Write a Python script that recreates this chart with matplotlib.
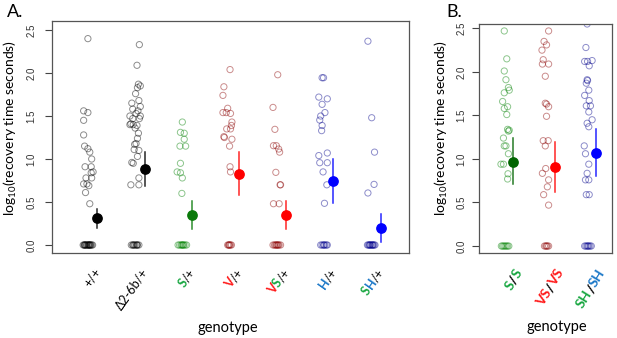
import numpy as np
import matplotlib
matplotlib.use("Agg")
import matplotlib.pyplot as plt
from matplotlib import transforms

plt.rcParams['font.family'] = ['Lato', 'DejaVu Sans']
plt.rcParams['mathtext.default'] = 'regular'

# label pieces: (text, colour key)
labels_a = [
    [("+/+", "k")],
    [("Δ2-6b/+", "k")],
    [("S", "S"), ("/+", "k")],
    [("V", "V"), ("/+", "k")],
    [("V", "V"), ("S", "S"), ("/+", "k")],
    [("H", "H"), ("/+", "k")],
    [("S", "S"), ("H", "H"), ("/+", "k")],
]
labels_b = [
    [("S", "S"), ("/", "k"), ("S", "S")],
    [("VS", "V"), ("/", "k"), ("VS", "V")],
    [("SH", "S"), ("/", "k"), ("SH", "H")],
]

# non-zero log10 recovery times, with the jitter
vals_pp = [2.40, 1.56, 1.54, 1.45, 1.28, 1.15, 1.12, 1.08, 1.00, 0.91, 0.91, 0.85, 0.84,
           0.78, 0.78, 0.71, 0.71, 0.69, 0.61, 0.48]
jit_pp = [0.0, -0.09, 0.0, -0.09, -0.09, -0.07, 0.0, 0.04, 0.08, -0.06, 0.07, 0.11, 0.07,
          -0.04, 0.08, -0.09, -0.02, 0.02, -0.05, 0.04]
vals_d = [2.33, 2.09, 1.87, 1.85, 1.83, 1.76, 1.68, 1.65, 1.61, 1.58, 1.56, 1.53, 1.50, 1.50,
          1.47, 1.47, 1.41, 1.40, 1.40, 1.39, 1.36, 1.30, 1.24, 1.18, 1.17, 1.11, 1.10, 1.03,
          0.96, 0.95, 0.78, 0.70, 0.70]
jit_d = [0.09, 0.04, 0.07, 0.11, 0.05, 0.01, 0.08, -0.07, 0.11, -0.05, 0.06, 0.02, -0.11, 0.11,
         -0.05, 0.09, -0.09, -0.11, -0.04, 0.04, 0.0, 0.07, 0.05, 0.02, -0.01, -0.02, 0.08, 0.05,
         -0.07, -0.04, 0.08, -0.09, 0.08]
vals_s = [1.43, 1.31, 1.30, 1.23, 1.15, 1.15, 0.95, 0.85, 0.84, 0.78, 0.60]
jit_s = [0.0, -0.04, 0.04, 0.04, -0.05, 0.07, -0.04, -0.11, -0.04, 0.0, -0.01]
vals_v = [2.04, 1.84, 1.74, 1.59, 1.54, 1.54, 1.53, 1.43, 1.39, 1.35, 1.35, 1.26, 1.25, 1.23,
          1.15, 0.91, 0.85]
jit_v = [0.01, -0.12, -0.14, -0.04, -0.14, -0.07, 0.02, 0.05, 0.04, -0.06, 0.02, -0.12, -0.11,
         0.05, 0.0, 0.01, 0.02]
vals_vs = [1.98, 1.60, 1.345, 1.155, 1.155, 1.116, 1.08, 0.845, 0.70, 0.70, 0.48, 0.48]
jit_vs = [0.02, -0.08, -0.04, -0.07, -0.01, 0.04, 0.06, -0.02, 0.07, 0.08, -0.07, 0.05]
vals_h = [1.945, 1.945, 1.72, 1.70, 1.636, 1.54, 1.50, 1.453, 1.39, 1.33, 1.07, 1.04, 0.957,
          0.957, 0.85, 0.70, 0.485]
jit_h = [-0.04, -0.01, -0.11, 0.07, -0.04, 0.02, -0.07, -0.09, -0.04, -0.05, 0.07, -0.11,
         -0.09, 0.07, -0.02, 0.06, 0.01]
vals_sh = [2.37, 1.48, 1.08, 0.705, 0.605]
jit_sh = [-0.07, 0.01, 0.07, 0.06, -0.07]

vals_ss = [2.47, 2.15, 2.01, 1.91, 1.82, 1.79, 1.76, 1.66, 1.60, 1.58, 1.51, 1.34, 1.33, 1.32,
           1.24, 1.15, 1.15, 1.06, 0.94, 0.94, 0.83, 0.77]
jit_ss = [-0.02, 0.04, -0.02, 0.02, 0.08, 0.10, -0.02, -0.06, 0.06, -0.02, 0.04, 0.06, 0.10,
          0.08, -0.04, -0.02, 0.02, 0.08, -0.10, -0.04, 0.07, 0.06]
vals_vsvs = [2.47, 2.35, 2.31, 2.25, 2.14, 2.09, 2.09, 1.95, 1.64, 1.63, 1.60, 1.49, 1.21, 1.21,
             1.15, 0.89, 0.835, 0.76, 0.68, 0.59, 0.47]
jit_vsvs = [0.05, -0.06, 0.0, -0.11, -0.08, -0.10, 0.05, -0.03, -0.03, 0.0, 0.05, 0.0, -0.08,
            0.04, -0.03, -0.02, -0.10, 0.05, 0.02, -0.07, 0.05]
vals_shsh = [2.55, 2.28, 2.12, 2.12, 2.13, 2.07, 1.91, 1.90, 1.87, 1.79, 1.73, 1.67, 1.61, 1.61,
             1.54, 1.45, 1.41, 1.37, 1.15, 1.06, 0.94, 0.835, 0.76, 0.76, 0.59, 0.59]
jit_shsh = [-0.02, -0.05, -0.08, -0.01, 0.10, 0.03, -0.02, -0.01, -0.04, 0.02, -0.08, 0.03, -0.04,
            0.06, 0.02, 0.10, -0.02, 0.02, -0.09, -0.06, 0.02, -0.02, -0.06, 0.02, -0.04, 0.03]

# jitter of the points sitting at zero
zero_jit_a = [
    [-0.10, -0.08, -0.07, -0.06, -0.05, -0.03, -0.02, 0.0, 0.01, 0.02, 0.03, 0.04, 0.05, 0.06, 0.08, 0.10],
    [-0.08, -0.05, -0.04, -0.02, 0.0, 0.03, 0.04, 0.05, 0.08],
    [-0.09, -0.06, -0.03, -0.01, 0.0, 0.02, 0.03, 0.06, 0.09],
    [-0.04, -0.02, -0.01, 0.0, 0.02, 0.04],
    [-0.08, -0.05, -0.03, -0.01, 0.0, 0.02, 0.03, 0.05, 0.08],
    [-0.07, -0.04, -0.01, 0.0, 0.02, 0.05, 0.07],
    [-0.08, -0.06, -0.04, -0.03, -0.02, 0.0, 0.02, 0.03, 0.04, 0.06, 0.08],
]
zero_jit_b = [
    [-0.09, -0.06, -0.03, 0.0, 0.03, 0.06, 0.09],
    [-0.05, -0.02, 0.0, 0.02, 0.05],
    [-0.08, -0.05, -0.02, 0.0, 0.02, 0.05, 0.08],
]

mean_a = [0.31, 0.88, 0.35, 0.83, 0.345, 0.74, 0.194]
lo_a = [0.20, 0.69, 0.19, 0.58, 0.186, 0.485, 0.04]
hi_a = [0.42, 1.085, 0.51, 1.085, 0.515, 0.996, 0.357]
mean_b = [0.965, 0.91, 1.07]
lo_b = [0.708, 0.62, 0.81]
hi_b = [1.237, 1.20, 1.34]

vals_a = [vals_pp, vals_d, vals_s, vals_v, vals_vs, vals_h, vals_sh]
jits_a = [jit_pp, jit_d, jit_s, jit_v, jit_vs, jit_h, jit_sh]
vals_b = [vals_ss, vals_vsvs, vals_shsh]
jits_b = [jit_ss, jit_vsvs, jit_shsh]

pt_col_a = ['#000000', '#000000', '#008000', '#8b0000', '#8b0000', '#00008b', '#00008b']
mn_col_a = ['#000000', '#000000', '#0a7a0a', '#ff0000', '#ff0000', '#0000ff', '#0000ff']
pt_col_b = ['#008000', '#8b0000', '#00008b']
mn_col_b = ['#006400', '#ff0000', '#0000ff']
txt_col = {'k': '#000000', 'S': '#17a640', 'V': '#ff1a1a', 'H': '#1c78c8'}

fig = plt.figure(figsize=(6.17, 3.38), dpi=100)
ax_a = fig.add_axes([52 / 617, 1 - 253 / 338, 357 / 617, 232 / 338])
ax_b = fig.add_axes([479 / 617, 1 - 253 / 338, 133 / 617, 229 / 338])


def draw_panel(ax, vals, jits, zeros, means, lo, hi, pcol, mcol, pad):
    for i in range(len(vals)):
        x = i + 1
        ax.scatter(x + np.array(jits[i]), vals[i], s=20, facecolors='none',
                   edgecolors=pcol[i], linewidths=0.7, alpha=0.45, zorder=2)
        ax.scatter(x + np.array(zeros[i]), np.zeros(len(zeros[i])), s=20, facecolors='none',
                   edgecolors=pcol[i], linewidths=0.7, alpha=0.45, zorder=2)
        ax.plot([x + 0.2, x + 0.2], [lo[i], hi[i]], color=mcol[i], lw=1.1, alpha=0.85, zorder=3)
        ax.scatter([x + 0.2], [means[i]], s=45, color=mcol[i], zorder=4)
    ax.set_xticks([])
    ax.set_yticks([0, 0.5, 1.0, 1.5, 2.0, 2.5])
    ax.set_yticklabels(['0.0', '0.5', '1.0', '1.5', '2.0', '2.5'], rotation=90, va='center',
                       family='Liberation Sans', fontsize=7, color='#333333')
    ax.tick_params(axis='y', length=5, width=0.8, pad=pad, color='#444444')
    for sp in ax.spines.values():
        sp.set_color('#555555')
        sp.set_linewidth(0.9)


draw_panel(ax_a, vals_a, jits_a, zero_jit_a, mean_a, lo_a, hi_a, pt_col_a, mn_col_a, 6)
draw_panel(ax_b, vals_b, jits_b, zero_jit_b, mean_b, lo_b, hi_b, pt_col_b, mn_col_b, 4)
ax_a.set_xlim(0.24, 7.8)
ax_a.set_ylim(-0.093, 2.605)
ax_b.set_xlim(0.37, 3.58)
ax_b.set_ylim(-0.08, 2.55)

renderer = fig.canvas.get_renderer()


def rich_label(ax, x, parts, ang, size, drop, bold_all):
    # pieces of one rotated label, laid end to end so the last one ends at the anchor
    widths = []
    for s, c in parts:
        w = 'bold' if (bold_all or c != 'k') else 'normal'
        t = fig.text(0, 0, s, fontsize=size, fontweight=w)
        widths.append(t.get_window_extent(renderer).width)
        t.remove()
    ca, sa = np.cos(np.radians(ang)), np.sin(np.radians(ang))
    base = transforms.blended_transform_factory(ax.transData, ax.transAxes)
    pos = -sum(widths)
    for (s, c), wd in zip(parts, widths):
        w = 'bold' if (bold_all or c != 'k') else 'normal'
        off = transforms.ScaledTranslation(pos * ca / fig.dpi, (pos * sa - drop) / fig.dpi,
                                           fig.dpi_scale_trans)
        ax.text(x, 0, s, transform=base + off, rotation=ang, rotation_mode='anchor',
                ha='left', va='center_baseline', fontsize=size, fontweight=w,
                color=txt_col[c], clip_on=False)
        pos += wd


for i, parts in enumerate(labels_a):
    rich_label(ax_a, i + 1.2, parts, 55, 9, 16, False)
for i, parts in enumerate(labels_b):
    rich_label(ax_b, i + 1.33, parts, 58, 10, 17, True)

ylab = 'log$_{10}$(recovery time seconds)'
fig.text(10 / 617, 1 - 128 / 338, ylab, rotation=90, ha='center', va='center', fontsize=10)
fig.text(441 / 617, 1 - 128 / 338, ylab, rotation=90, ha='center', va='center', fontsize=10)
fig.text(228 / 617, 1 - 328 / 338, 'genotype', ha='center', va='center', fontsize=10.5)
fig.text(557 / 617, 1 - 327 / 338, 'genotype', ha='center', va='center', fontsize=10.5)
fig.text(7 / 617, 1 - 12 / 338, 'A.', ha='left', va='center', fontsize=13)
fig.text(446 / 617, 1 - 12 / 338, 'B.', ha='left', va='center', fontsize=13)

fig.savefig('out.png', dpi=100)
